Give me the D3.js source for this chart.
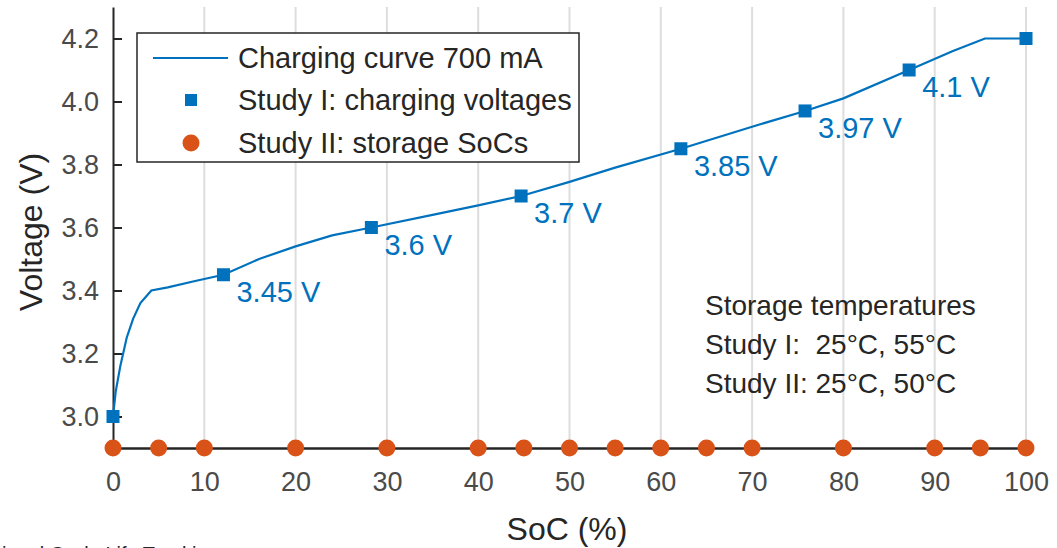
<!DOCTYPE html>
<html>
<head>
<meta charset="utf-8">
<script src="https://cdn.jsdelivr.net/npm/d3@7"></script>
<style>
  html, body { margin: 0; padding: 0; background: #ffffff; }
  svg { display: block; font-family: "Liberation Sans", Arial, sans-serif; }
</style>
</head>
<body>
<svg id="chart" width="1057" height="548"></svg>
<script>
// Charging curve at 700 mA: state of charge (%) and cell voltage (V)
const curveSoc = [0, 0.3, 0.8, 1.5, 2.2, 3.0, 4.2, 6, 9, 12.1, 16, 20, 24, 28.3,
                  35, 40, 44.7, 50, 55, 62.2, 70, 75.8, 80, 87.2, 92, 95.5, 100];
const curveVolt = [3.0, 3.08, 3.16, 3.25, 3.31, 3.36, 3.40, 3.41, 3.43, 3.45, 3.50, 3.54, 3.575, 3.6,
                   3.64, 3.67, 3.7, 3.745, 3.79, 3.85, 3.92, 3.97, 4.01, 4.1, 4.16, 4.2, 4.2];

// Study I: charging voltages and the SoC they correspond to
const study1Soc = [0, 12.1, 28.3, 44.7, 62.2, 75.8, 87.2, 100];
const study1Volt = [3.0, 3.45, 3.6, 3.7, 3.85, 3.97, 4.1, 4.2];
const study1Labels = [null, "3.45 V", "3.6 V", "3.7 V", "3.85 V", "3.97 V", "4.1 V", null];

// Study II: storage SoCs
const study2Soc = [0, 5, 10, 20, 30, 40, 45, 50, 55, 60, 65, 70, 80, 90, 95, 100];

const xTicks = [0, 10, 20, 30, 40, 50, 60, 70, 80, 90, 100];
const yTicks = [3.0, 3.2, 3.4, 3.6, 3.8, 4.0, 4.2];

const legendLabels = ["Charging curve 700 mA", "Study I: charging voltages", "Study II: storage SoCs"];
const noteLines = ["Storage temperatures", "Study I:  25°C, 55°C", "Study II: 25°C, 50°C"];

const blue = "#0072BD", orange = "#D95319", ink = "#262626", tickInk = "#4a4a4a";

const svg = d3.select("#chart");
const x = d3.scaleLinear().domain([0, 100]).range([113, 1026]);
const y = d3.scaleLinear().domain([2.9, 4.3]).range([448, 7]);

// vertical grid lines
svg.append("g").selectAll("line").data(xTicks.slice(1)).join("line")
  .attr("x1", d => x(d)).attr("x2", d => x(d))
  .attr("y1", y(4.3)).attr("y2", y(2.9))
  .attr("stroke", "#dddddd").attr("stroke-width", 2);

// y axis with inward ticks
const yAxis = svg.append("g").attr("transform", `translate(${x(0)},0)`)
  .call(d3.axisLeft(y).tickValues(yTicks).tickFormat(d3.format(".1f")).tickSizeInner(-9).tickSizeOuter(0).tickPadding(14));
yAxis.select(".domain").attr("stroke", ink).attr("stroke-width", 2);
yAxis.selectAll(".tick line").attr("stroke", ink).attr("stroke-width", 2);
yAxis.selectAll(".tick text").attr("fill", tickInk).style("font-size", "27px").attr("font-family", null);

// x axis
const xAxis = svg.append("g").attr("transform", `translate(0,${y(2.9)})`)
  .call(d3.axisBottom(x).tickValues(xTicks).tickSize(0).tickPadding(24));
xAxis.select(".domain").attr("stroke", ink).attr("stroke-width", 2.5);
xAxis.selectAll(".tick text").attr("fill", tickInk).style("font-size", "27px").attr("font-family", null);

// axis titles
svg.append("text").attr("x", 567).attr("y", 540).attr("text-anchor", "middle")
  .attr("fill", ink).style("font-size", "32px").text("SoC (%)");
svg.append("text").attr("transform", "translate(42,232) rotate(-90)").attr("text-anchor", "middle")
  .attr("fill", ink).style("font-size", "32px").text("Voltage (V)");

// charging curve
const line = d3.line().x(d => x(d[0])).y(d => y(d[1]));
svg.append("path").datum(curveSoc.map((s, i) => [s, curveVolt[i]]))
  .attr("d", line).attr("fill", "none").attr("stroke", blue).attr("stroke-width", 2.2);

// Study II storage SoC markers along the bottom axis
svg.append("g").selectAll("circle").data(study2Soc).join("circle")
  .attr("cx", d => x(d)).attr("cy", y(2.9)).attr("r", 8.5).attr("fill", orange);

// Study I charging voltage markers
const sq = 13;
svg.append("g").selectAll("rect").data(study1Soc).join("rect")
  .attr("x", d => x(d) - sq / 2).attr("y", (d, i) => y(study1Volt[i]) - sq / 2)
  .attr("width", sq).attr("height", sq).attr("fill", blue);

// voltage labels next to the markers
svg.append("g").selectAll("text").data(study1Soc.map((s, i) => ({ s, v: study1Volt[i], t: study1Labels[i] })).filter(d => d.t))
  .join("text")
  .attr("x", d => x(d.s) + 13).attr("y", d => y(d.v) + 27)
  .attr("fill", blue).style("font-size", "29px").text(d => d.t);

// legend
const lg = svg.append("g");
lg.append("rect").attr("x", 137).attr("y", 33).attr("width", 442).attr("height", 129)
  .attr("fill", "#ffffff").attr("stroke", ink).attr("stroke-width", 1.5);
const rowY = [58, 100, 143];
lg.append("line").attr("x1", 153).attr("x2", 228).attr("y1", rowY[0]).attr("y2", rowY[0])
  .attr("stroke", blue).attr("stroke-width", 2.2);
lg.append("rect").attr("x", 191 - 6).attr("y", rowY[1] - 6).attr("width", 12).attr("height", 12).attr("fill", blue);
lg.append("circle").attr("cx", 191).attr("cy", rowY[2]).attr("r", 8.5).attr("fill", orange);
lg.selectAll("text.lab").data(legendLabels).join("text").attr("class", "lab")
  .attr("x", 238).attr("y", (d, i) => rowY[i] + 10)
  .attr("fill", ink).style("font-size", "29px").text(d => d);

// storage temperature note
svg.append("g").selectAll("text").data(noteLines).join("text")
  .attr("x", 705).attr("y", (d, i) => 315 + i * 39)
  .attr("fill", ink).style("font-size", "28px").style("white-space", "pre")
  .attr("xml:space", "preserve").text(d => d);

// caption line running off the bottom edge
svg.append("text").attr("x", 2).attr("y", 561).attr("fill", ink).style("font-size", "20px")
  .text("ional Cycle Life Tracking");
</script>
</body>
</html>
